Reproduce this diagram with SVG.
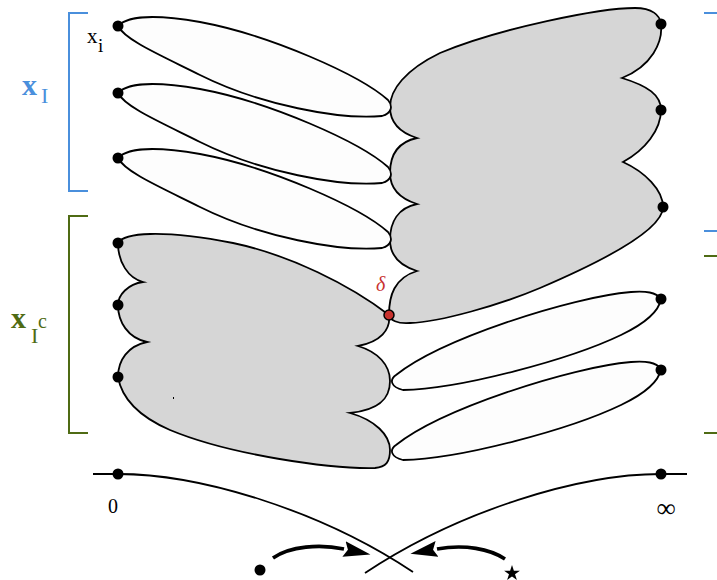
<svg xmlns="http://www.w3.org/2000/svg" xmlns:xlink="http://www.w3.org/1999/xlink" width="717" height="580" viewBox="0 0 717 580">
<style>
.ln{fill:none;stroke:#000;stroke-width:1.8;stroke-linejoin:round}
.gray{fill:#d6d6d6;stroke:#000;stroke-width:1.8;stroke-linejoin:miter;stroke-miterlimit:20}
.lobe{fill:#fdfdfd;stroke:#000;stroke-width:1.8}
.dot{fill:#000}
.arr{fill:none;stroke:#000;stroke-width:3.6;stroke-linecap:butt}
.serif{font-family:"Liberation Serif","DejaVu Serif",serif}
.blue{stroke:#4a8fdc;stroke-width:2;fill:none}
.green{stroke:#4f6b14;stroke-width:2;fill:none}
</style>
<defs>
<path id="lobeShape" d="M0,0 C10,-11 42,-11 82,-4 C152,9 242,49 270,74 C275,80 274,87 264,90 C222,94 142,79 82,49 C42,29 7,14 0,0 Z"/>
<path id="lobeShapeR" d="M0,0 C-5,-7 -15,-8 -30,-7 C-90,-2 -220,40 -265,76 C-272,81 -270,88 -258,91 C-200,90 -90,60 -40,36 C-15,24 -2,12 0,0 Z"/>
<marker id="ah" viewBox="0 0 28 16" refX="0" refY="8" markerWidth="28" markerHeight="16" markerUnits="userSpaceOnUse" orient="auto">
<path d="M0,0 L27,8 L0,16 L4,8 Z" fill="#000"/>
</marker>
</defs>

<g id="bracket-xI">
<path class="blue" d="M88,13 H69 V191 H88"/>
<text class="serif" x="22" y="95" font-size="30" font-weight="bold" fill="#4a8fdc">x</text>
<text class="serif" x="41" y="103" font-size="22" fill="#4a8fdc">I</text>
</g>
<g id="bracket-xIc">
<path class="green" d="M88,216 H69 V433 H88"/>
<text class="serif" x="11" y="328" font-size="30" font-weight="bold" fill="#4f6b14">x</text>
<text class="serif" x="31" y="343" font-size="22" fill="#4f6b14">I</text>
<text class="serif" x="38" y="328" font-size="20" fill="#4f6b14">c</text>
</g>
<g id="ticks-right">
<path class="blue" d="M704,13 H717 M704,231 H717"/>
<path class="green" d="M704,256 H717 M704,433 H717"/>
</g>

<g id="region-top-right">
<path class="gray" d="M389,315 C389,296 394,278 417,271 C398,265 390,255 390,240 C390,222 398,208 417,204 C398,198 390,188 390,173 C390,155 398,142 417,138 C398,132 390,122 390,107 C390,90 405,70 440,53 C500,28 600,8 635,8 C652,8 660,15 661,24 C663,42 652,66 622,78 C648,86 661,95 661,110 C661,130 645,150 623,162 C645,172 663,190 663,207 C663,228 610,258 540,288 C500,305 440,322 410,323 C397,324 390,320 389,315 Z"/>
<circle class="dot" cx="661" cy="24" r="5.5"/>
<circle class="dot" cx="661" cy="110" r="5.5"/>
<circle class="dot" cx="663" cy="207" r="5.5"/>
</g>

<g id="region-bottom-left">
<path class="gray" d="M118,243 C124,233 160,229 233,243 C290,255 350,285 389,315 C391,330 380,342 358,346 C378,352 390,365 390,381 C390,398 380,410 350,413 C375,420 390,435 390,450 C390,462 386,467 375,468 C330,469 230,455 170,430 C140,417 122,400 118,377 C118,360 128,346 147,342 C128,338 118,322 118,305 C118,295 128,284 143,282 C128,278 118,262 118,243 Z"/>
<rect x="173" y="397" width="1" height="2" fill="#000"/>
<circle class="dot" cx="118" cy="243" r="5.5"/>
<circle class="dot" cx="118" cy="305" r="5.5"/>
<circle class="dot" cx="118" cy="377" r="5.5"/>
</g>

<g id="lobe-1">
<use xlink:href="#lobeShape" href="#lobeShape" class="lobe" transform="translate(118,26)"/>
<circle class="dot" cx="118" cy="26" r="5.5"/>
<text class="serif" x="87" y="43" font-size="21">x</text>
<text class="serif" x="98" y="52" font-size="19">i</text>
</g>
<g id="lobe-2">
<use xlink:href="#lobeShape" href="#lobeShape" class="lobe" transform="translate(118,93)"/>
<circle class="dot" cx="118" cy="93" r="5.5"/>
</g>
<g id="lobe-3">
<use xlink:href="#lobeShape" href="#lobeShape" class="lobe" transform="translate(118,158)"/>
<circle class="dot" cx="118" cy="158" r="5.5"/>
</g>
<g id="lobe-4">
<use xlink:href="#lobeShapeR" href="#lobeShapeR" class="lobe" transform="translate(661,299)"/>
<circle class="dot" cx="661" cy="299" r="5.5"/>
</g>
<g id="lobe-5">
<use xlink:href="#lobeShapeR" href="#lobeShapeR" class="lobe" transform="translate(661,369)"/>
<circle class="dot" cx="661" cy="370" r="5.5"/>
</g>

<g id="delta">
<circle cx="389" cy="315" r="5" fill="#c8322e" stroke="#000" stroke-width="1.5"/>
<text class="serif" x="376" y="291" font-size="20" font-style="italic" fill="#c8322e">δ</text>
</g>

<g id="curve-zero">
<path class="ln" d="M93,474 L118,474 C200,474 320,510 413,572"/>
<circle class="dot" cx="118" cy="474" r="5.5"/>
<text class="serif" x="113" y="513" font-size="20" text-anchor="middle">0</text>
</g>
<g id="curve-infinity">
<path class="ln" d="M687,474 L661,474 C580,474 460,510 365,573"/>
<circle class="dot" cx="661" cy="474" r="5.5"/>
<text class="serif" x="666" y="517" font-size="27" text-anchor="middle">∞</text>
</g>

<g id="source-dot">
<circle class="dot" cx="260" cy="570" r="5.5"/>
</g>
<g id="source-star">
<polygon fill="#000" points="512,565 513.9,570.7 519.9,570.7 515,574.3 516.9,580 512,576.5 507.1,580 509,574.3 504.1,570.7 510.1,570.7"/>
</g>

<g id="connectors">
<path class="arr" d="M273,558 C290,546 320,544 344,549" marker-end="url(#ah)"/>
<path class="arr" d="M505,559 C490,549 465,544 437,549" marker-end="url(#ah)"/>
</g>
</svg>
